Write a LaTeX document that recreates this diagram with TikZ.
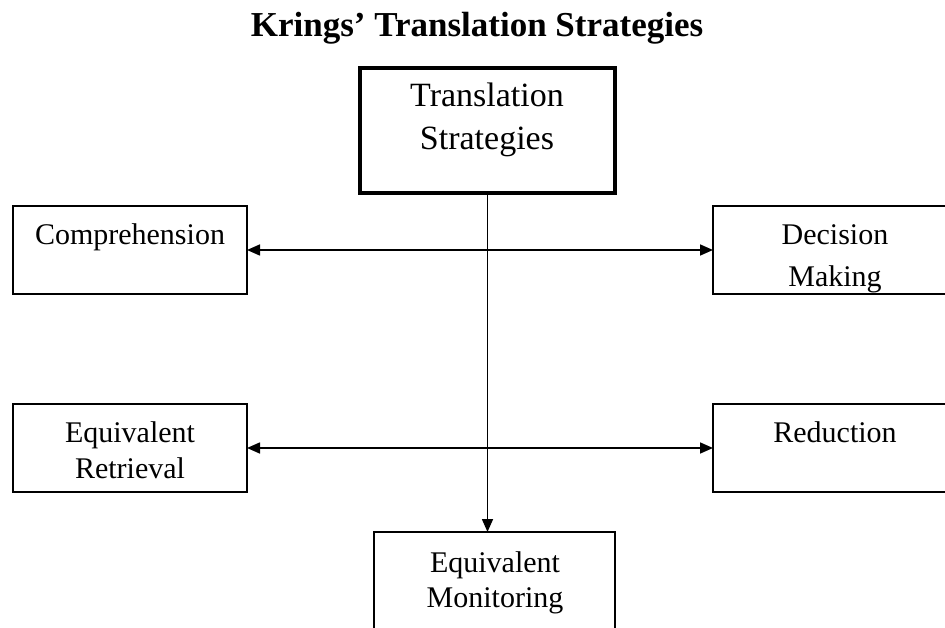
\documentclass[tikz,border=0pt]{standalone}
\usepackage{fontspec}
\setmainfont{Liberation Serif}
\usetikzlibrary{arrows.meta}
\tikzset{
  box/.style={draw, line width=1.6pt, inner sep=0pt, outer sep=0pt},
  txt/.style={anchor=base, inner sep=0pt, font=\fontsize{30}{36}\selectfont},
  bigtxt/.style={anchor=base, inner sep=0pt, font=\fontsize{34}{41}\selectfont},
  tip/.style={-{Triangle[length=13pt,width=11pt]}},
  conn/.style={line width=1.6pt},
}
\begin{document}
\begin{tikzpicture}[x=1pt,y=-1pt]
\useasboundingbox (0,0) rectangle (945,628);
\clip (0,0) rectangle (945,628);
% title
\node[anchor=base, inner sep=0pt, font=\bfseries\fontsize{35}{42}\selectfont] (title) at (477,37) {Krings’ Translation Strategies};
% boxes
\node[box, line width=4.5pt, minimum width=255pt, minimum height=125pt] (top) at (487.5,130.5) {};
\node[box, minimum width=234pt, minimum height=88pt] (comp) at (130,250) {};
\node[box, minimum width=247pt, minimum height=88pt] (dec) at (836.5,250) {};
\node[box, minimum width=234pt, minimum height=88pt] (ret) at (130,448) {};
\node[box, minimum width=247pt, minimum height=88pt] (red) at (836.5,448) {};
\node[box, minimum width=241pt, minimum height=110pt] (mon) at (494.5,587) {};
% texts
\node[bigtxt] (t1) at (487,107) {Translation};
\node[bigtxt] (t2) at (487,150) {Strategies};
\node[txt] (c1) at (130,245) {Comprehension};
\node[txt] (d1) at (835,245) {Decision};
\node[txt] (d2) at (835,287) {Making};
\node[txt] (r1) at (130,442) {Equivalent};
\node[txt] (r2) at (130,478) {Retrieval};
\node[txt] (e1) at (835,442) {Reduction};
\node[txt] (m1) at (495,572) {Equivalent};
\node[txt] (m2) at (495,607) {Monitoring};
% connectors
\draw[conn, {Triangle[length=13pt,width=11pt]}-{Triangle[length=13pt,width=11pt]}] (comp.east) -- (dec.west);
\draw[conn, {Triangle[length=13pt,width=11pt]}-{Triangle[length=13pt,width=11pt]}] (ret.east) -- (red.west);
\draw[conn, tip] (top.south) -- (top.south |- mon.north);
\end{tikzpicture}
\end{document}
